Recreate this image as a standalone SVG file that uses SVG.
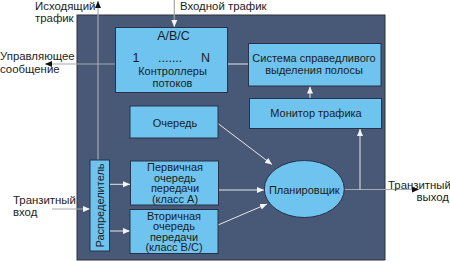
<svg xmlns="http://www.w3.org/2000/svg" width="450" height="261" viewBox="0 0 450 261">
<style>
text{font-family:"Liberation Sans",Arial,sans-serif;font-size:11px;fill:#1c1c1c}
.m{text-anchor:middle}
.big{font-size:12.5px}
.lab{font-size:11.4px}
.box{fill:#6ec4ee;stroke:#27324a;stroke-width:1}
.in{stroke:#e6e6e6;stroke-width:1;fill:none}
.gr{stroke:#a8a8a8;stroke-width:1.2;fill:none}
</style>
<defs>
<marker id="aw" markerUnits="userSpaceOnUse" markerWidth="8" markerHeight="8" refX="7" refY="4" orient="auto"><path d="M0,1 L7,4 L0,7 Z" fill="#f4f4f4"/></marker>
<marker id="ab" markerUnits="userSpaceOnUse" markerWidth="8" markerHeight="8" refX="7" refY="4" orient="auto"><path d="M0,1 L7,4 L0,7 Z" fill="#111"/></marker>
</defs>
<rect id="panel" x="77" y="15" width="308" height="245" fill="#485877" stroke="#2e2e3a" stroke-width="1"/>
<g id="connectors">
<line class="gr" x1="98" y1="160" x2="98" y2="1" marker-end="url(#ab)"/>
<line class="gr" x1="174.3" y1="0" x2="174.3" y2="27" marker-end="url(#aw)"/>
<line class="gr" x1="115" y1="64" x2="45" y2="64" marker-end="url(#ab)"/>
<line class="in" x1="228" y1="64" x2="248" y2="64"/>
<line class="in" x1="310" y1="98" x2="310" y2="86.5" marker-end="url(#aw)"/>
<line class="gr" x1="344" y1="189.5" x2="419" y2="189.5" marker-end="url(#ab)"/>
<line class="in" x1="360" y1="189.5" x2="360" y2="129" marker-end="url(#aw)"/>
<line class="in" x1="218" y1="123.5" x2="272" y2="164.5" marker-end="url(#aw)"/>
<line class="in" x1="218.5" y1="190" x2="264" y2="190" marker-end="url(#aw)"/>
<line class="in" x1="218" y1="225" x2="267" y2="204" marker-end="url(#aw)"/>
<line class="in" x1="109.5" y1="184.3" x2="130" y2="184.3" marker-end="url(#aw)"/>
<line class="in" x1="109.5" y1="231" x2="130" y2="231" marker-end="url(#aw)"/>
<line class="gr" x1="52" y1="209" x2="90" y2="209" marker-end="url(#aw)"/>
</g>
<g id="controllers">
<rect class="box" x="115.5" y="27.5" width="112" height="65"/>
<text class="m big" x="173.5" y="39.5">A/B/C</text>
<text class="big" x="132.5" y="62">1</text>
<text class="big" x="158" y="62">.......</text>
<text class="big" x="201" y="62">N</text>
<text class="m" x="172.5" y="74.5">Контроллеры</text>
<text class="m" x="172.5" y="86.5">потоков</text>
</g>
<g id="fair">
<rect class="box" x="248.5" y="43.5" width="132.5" height="42.5"/>
<text class="m" x="314" y="61.5">Система справедливого</text>
<text class="m" x="314" y="74">выделения полосы</text>
</g>
<g id="monitor">
<rect class="box" x="249.5" y="98.5" width="132" height="30"/>
<text class="m" x="316" y="116.5">Монитор трафика</text>
</g>
<g id="queue">
<rect class="box" x="130" y="106" width="88" height="32"/>
<text class="m" x="175" y="126.5">Очередь</text>
</g>
<g id="primary">
<rect class="box" x="130.5" y="161" width="88" height="44"/>
<text class="m" x="175" y="171">Первичная</text>
<text class="m" x="175" y="181.5">очередь</text>
<text class="m" x="175" y="192">передачи</text>
<text class="m" x="175" y="202.5">(класс А)</text>
</g>
<g id="secondary">
<rect class="box" x="130" y="209.5" width="88" height="44"/>
<text class="m" x="174" y="219.5">Вторичная</text>
<text class="m" x="174" y="230">очередь</text>
<text class="m" x="174" y="240.5">передачи</text>
<text class="m" x="174" y="251">(класс В/С)</text>
</g>
<g id="distributor">
<rect class="box" x="90" y="160" width="19.5" height="91"/>
<text class="m" transform="translate(103.5,205.5) rotate(-90)">Распределитель</text>
</g>
<g id="scheduler">
<ellipse class="box" cx="304.3" cy="189" rx="40" ry="28.5"/>
<text class="m" x="304.3" y="193.5">Планировщик</text>
</g>
<g id="labels">
<text class="lab" x="35" y="9.5">Исходящий</text>
<text class="lab" x="35" y="21.5">трафик</text>
<text class="lab" x="180" y="10">Входной трафик</text>
<text class="lab" x="0" y="59.5">Управляющее</text>
<text class="lab" x="0" y="73">сообщение</text>
<text class="lab" x="13" y="203.5">Транзитный</text>
<text class="lab" x="13" y="216">вход</text>
<text class="lab" x="388" y="188.5">Транзитный</text>
<text class="lab" x="449" y="201" text-anchor="end">выход</text>
</g>
</svg>
